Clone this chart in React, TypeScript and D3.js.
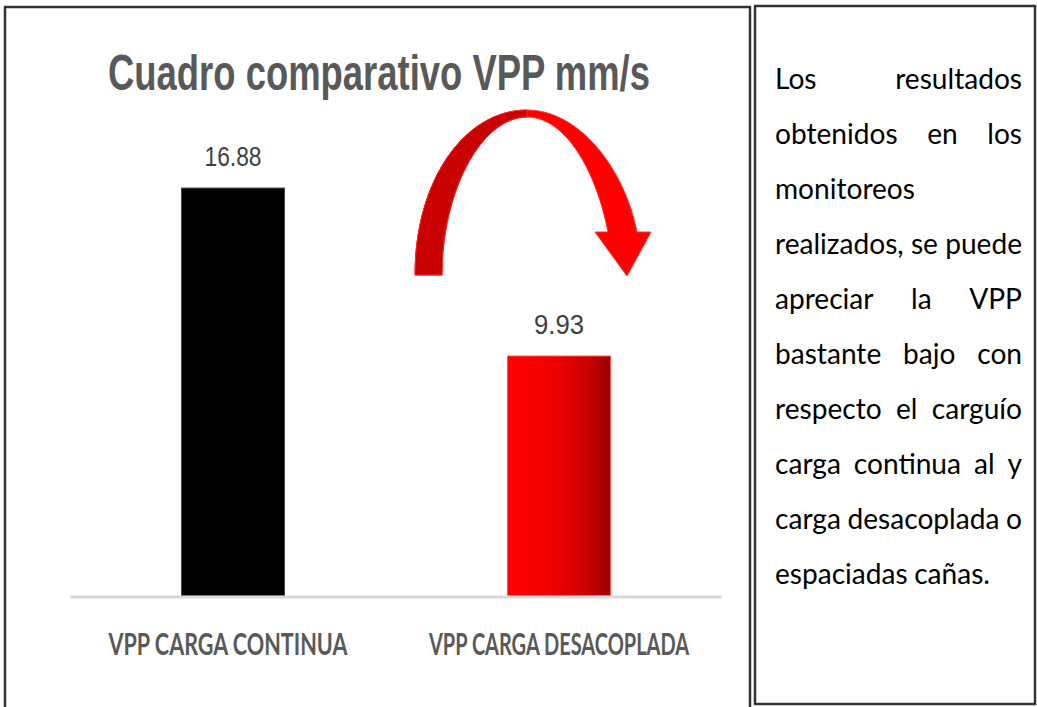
import React, { useEffect, useRef } from "react";
import * as d3 from "d3";

// datos del grafico
const categories = ["VPP CARGA CONTINUA", "VPP CARGA DESACOPLADA"];
const values = [16.88, 9.93];
const valueLabels = ["16.88", "9.93"];
const title = "Cuadro comparativo VPP mm/s";

// texto del cuadro derecho (lineas tal como aparecen, justificadas)
const noteLines = [
  "Los resultados",
  "obtenidos en los",
  "monitoreos",
  "realizados, se puede",
  "apreciar la VPP",
  "bastante bajo con",
  "respecto el carguío",
  "carga continua al y",
  "carga desacoplada o",
  "espaciadas cañas.",
];
const leftAligned = [2, 9];

const W = 1037;
const H = 707;

const App = () => {
  const noteRef = useRef<SVGGElement>(null);

  const margin = { left: 70, right: 315, top: 161, bottom: 111 };
  const x = d3
    .scaleBand<string>()
    .domain(categories)
    .range([margin.left, W - margin.right])
    .padding(0);
  const y = d3
    .scaleLinear()
    .domain([0, 18])
    .range([H - margin.bottom, margin.top]);
  const barW = x.bandwidth() * 0.316;

  useEffect(() => {
    const g = d3.select(noteRef.current);
    g.selectAll("*").remove();
    const x0 = 775;
    const x1 = 1022;
    const lineH = 55;
    const first = 89;
    const font = "Lato, 'Open Sans', sans-serif";

    // tamaño de letra tal que la linea completa ocupe el ancho del cuadro
    const probe = g
      .append("text")
      .attr("font-family", font)
      .attr("font-size", 33)
      .text("realizados, se puede");
    const natural = (probe.node() as SVGTextElement).getComputedTextLength();
    probe.remove();
    const fs = Math.min(34, (33 * (x1 - x0)) / natural);

    noteLines.forEach((line, i) => {
      const words = line.split(" ");
      const nodes = words.map((w) =>
        g
          .append("text")
          .attr("font-family", font)
          .attr("font-size", fs)
          .attr("fill", "#000")
          .attr("y", first + i * lineH)
          .text(w)
      );
      const widths = nodes.map((n) => (n.node() as SVGTextElement).getComputedTextLength());
      let gap = fs * 0.23;
      if (!leftAligned.includes(i) && words.length > 1) {
        gap = Math.max(gap, (x1 - x0 - d3.sum(widths)) / (words.length - 1));
      }
      let cx = x0;
      nodes.forEach((n, k) => {
        n.attr("x", cx);
        cx += widths[k] + gap;
      });
    });
  }, []);

  // flecha curva (anotacion)
  const arrowFull =
    "M415,275 C415,180 465,110 527,110 C580,110 625,170 637,232 L651,232 L627,276 L595,232 L608,232 C596,170 565,117 527,117 C482,117 442,190 442,275 Z";
  const arrowBack =
    "M415,275 C415,180 465,110 527,110 C527,112 527,115 527,117 C482,117 442,190 442,275 Z";

  return (
    <svg
      width={W}
      height={H}
      style={{ position: "absolute", left: 0, top: 0, background: "#fff" }}
    >
      <defs>
        <linearGradient id="redGrad" x1="0" x2="1" y1="0" y2="0">
          <stop offset="0" stopColor="#ff0000" />
          <stop offset="0.45" stopColor="#ef0000" />
          <stop offset="0.75" stopColor="#cf0000" />
          <stop offset="1" stopColor="#990000" />
        </linearGradient>
      </defs>

      {/* marcos */}
      <rect x={5} y={7} width={745} height={710} fill="none" stroke="#9a9a9a" strokeWidth={3} />
      <rect x={5} y={7} width={745} height={710} fill="none" stroke="#111" strokeWidth={1.5} />
      <rect x={755} y={6} width={280} height={698} fill="none" stroke="#9a9a9a" strokeWidth={3} />
      <rect x={755} y={6} width={280} height={698} fill="none" stroke="#111" strokeWidth={1.5} />

      {/* titulo */}
      <text
        x={379}
        y={90}
        textAnchor="middle"
        fontFamily="'Liberation Sans', Arial, sans-serif"
        fontWeight="bold"
        fontSize={50}
        fill="#595959"
        textLength={542}
        lengthAdjust="spacingAndGlyphs"
      >
        {title}
      </text>

      {/* flecha */}
      <path d={arrowFull} fill="#ff0000" stroke="#ff3030" strokeWidth={1} />
      <path d={arrowBack} fill="#c80000" stroke="#ff2020" strokeWidth={1} />

      {/* barras */}
      {categories.map((c, i) => {
        const cx = (x(c) ?? 0) + x.bandwidth() / 2;
        return (
          <rect
            key={c}
            x={cx - barW / 2}
            y={y(values[i])}
            width={barW}
            height={y(0) - y(values[i])}
            fill={i === 0 ? "#000" : "url(#redGrad)"}
            stroke={i === 0 ? "#444" : "#ff5050"}
            strokeWidth={1}
          />
        );
      })}

      {/* eje */}
      <line
        x1={margin.left}
        x2={W - margin.right}
        y1={y(0) + 1}
        y2={y(0) + 1}
        stroke="#d9d9d9"
        strokeWidth={3}
      />

      {/* etiquetas de valor */}
      {categories.map((c, i) => {
        const cx = (x(c) ?? 0) + x.bandwidth() / 2;
        return (
          <text
            key={c}
            x={cx}
            y={y(values[i]) - 22}
            textAnchor="middle"
            fontFamily="'Liberation Sans', Arial, sans-serif"
            fontSize={27}
            fill="#404040"
            textLength={i === 0 ? 57 : 50}
            lengthAdjust="spacingAndGlyphs"
          >
            {valueLabels[i]}
          </text>
        );
      })}

      {/* etiquetas de categoria */}
      {categories.map((c, i) => {
        const cx = (x(c) ?? 0) + x.bandwidth() / 2;
        return (
          <text
            key={c}
            x={cx - (i === 0 ? 5 : 0)}
            y={655}
            textAnchor="middle"
            fontFamily="Lato, 'Open Sans', sans-serif"
            fontWeight="bold"
            fontSize={31}
            fill="#595959"
            textLength={i === 0 ? 239 : 260}
            lengthAdjust="spacingAndGlyphs"
          >
            {c}
          </text>
        );
      })}

      <g ref={noteRef} />
    </svg>
  );
};

export default App;
